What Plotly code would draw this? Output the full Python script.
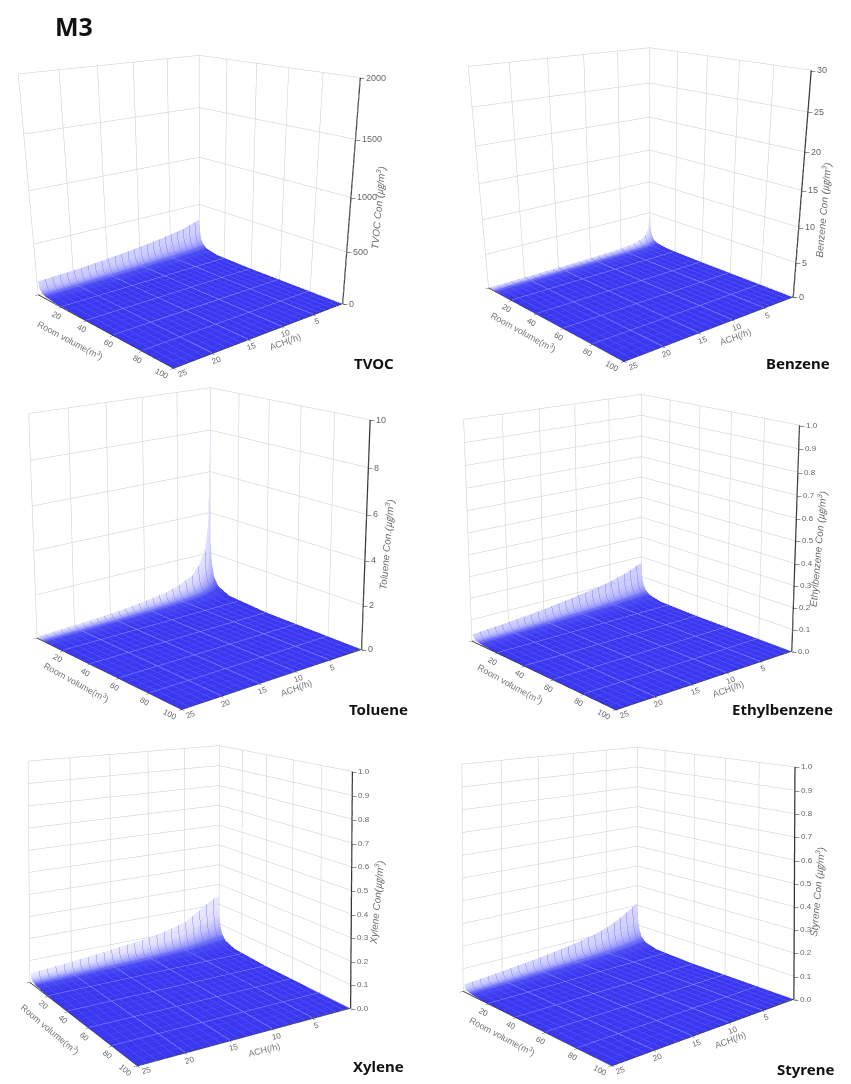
import numpy as np
import plotly.graph_objects as go

# ---- data ----
ACH = [0.2, 0.5, 1, 2, 3, 5, 7, 10, 13, 16, 20, 25]
VOL = [1, 1.5, 2.5, 4, 7, 15, 40, 100]

TVOC = [
 [340,335,325,305,285,262,240,215,192,175,155,140],
 [211,208,202,189,177,162,149,133,119,109,96,87],
 [136,134,130,122,114,105,96,86,77,70,62,56],
 [85,84,81,76,71,66,60,54,48,44,39,35],
 [48,47,46,43,40,37,34,30,27,25,22,20],
 [20,20,20,18,17,16,14,13,12,11,9,8],
 [9,8,8,8,7,7,6,5,5,4,4,3],
 [3,3,3,3,3,3,2,2,2,2,2,1],
]
BENZENE = [
 [5.2,2.6,1.6,1.0,.75,.55,.45,.35,.28,.24,.2,.16],
 [3.0,1.7,1.05,.65,.48,.35,.28,.22,.18,.15,.12,.1],
 [1.6,1.05,.65,.4,.3,.22,.18,.14,.11,.1,.08,.06],
 [.9,.65,.4,.25,.19,.14,.11,.09,.07,.06,.05,.04],
 [.5,.36,.23,.14,.11,.08,.06,.05,.04,.035,.03,.02],
 [.22,.17,.11,.07,.05,.04,.03,.02,.02,.02,.01,.01],
 [.09,.06,.04,.03,.02,.015,.01,.01,.01,.01,.005,.005],
 [.035,.025,.015,.01,.01,.005,.005,.005,.005,.004,.003,.002],
]
TOLUENE = [
 [7.8,3.5,2.2,1.5,1.1,.8,.6,.45,.33,.25,.18,.12],
 [2.5,1.9,1.35,.9,.68,.5,.38,.28,.2,.16,.11,.08],
 [1.5,1.1,.85,.58,.44,.32,.24,.18,.13,.1,.07,.05],
 [.9,.7,.52,.36,.27,.2,.15,.11,.08,.06,.045,.03],
 [.5,.4,.3,.2,.15,.11,.085,.06,.045,.035,.025,.02],
 [.22,.18,.13,.09,.07,.05,.04,.03,.02,.015,.01,.01],
 [.08,.07,.05,.035,.025,.02,.015,.01,.01,.005,.005,.003],
 [.03,.03,.02,.015,.01,.008,.006,.004,.003,.002,.002,.001],
]
ETHYLBENZENE = [
 [.172,.17,.165,.15,.138,.12,.105,.09,.075,.062,.048,.035],
 [.107,.105,.102,.093,.086,.074,.065,.056,.047,.038,.03,.022],
 [.069,.068,.066,.06,.055,.048,.042,.036,.03,.025,.019,.014],
 [.043,.042,.041,.037,.034,.03,.026,.022,.019,.015,.012,.009],
 [.024,.024,.023,.021,.019,.017,.015,.013,.01,.009,.007,.005],
 [.01,.01,.01,.009,.008,.007,.006,.005,.005,.004,.003,.002],
 [.004,.004,.004,.004,.003,.003,.003,.002,.002,.002,.001,.001],
 [.002,.002,.002,.001,.001,.001,.001,.001,.001,.001,.001,.0005],
]
XYLENE = [
 [.242,.24,.235,.215,.19,.145,.125,.10,.088,.075,.06,.045],
 [.15,.149,.146,.133,.118,.09,.078,.062,.055,.047,.037,.028],
 [.097,.096,.094,.086,.076,.058,.05,.04,.035,.03,.024,.018],
 [.06,.06,.059,.054,.048,.036,.031,.025,.022,.019,.015,.011],
 [.034,.034,.033,.03,.027,.02,.018,.014,.012,.011,.008,.006],
 [.015,.014,.014,.013,.011,.009,.008,.006,.005,.005,.004,.003],
 [.006,.006,.006,.005,.005,.004,.003,.003,.002,.002,.002,.001],
 [.002,.002,.002,.002,.002,.002,.001,.001,.001,.001,.001,.0005],
]
STYRENE = [
 [.212,.21,.2,.18,.16,.13,.11,.09,.075,.062,.048,.033],
 [.131,.13,.124,.112,.099,.081,.068,.056,.047,.038,.03,.02],
 [.085,.084,.08,.072,.064,.052,.044,.036,.03,.025,.019,.013],
 [.053,.053,.05,.045,.04,.033,.028,.023,.019,.016,.012,.008],
 [.03,.029,.028,.025,.022,.018,.015,.013,.011,.009,.007,.005],
 [.013,.013,.012,.011,.01,.008,.007,.005,.005,.004,.003,.002],
 [.005,.005,.005,.004,.004,.003,.003,.002,.002,.002,.001,.001],
 [.002,.002,.002,.002,.002,.001,.001,.001,.001,.001,.001,.0005],
]

ACH_TICKS = [0, 5, 10, 15, 20, 25]
VOL_TICKS = [0, 20, 40, 60, 80, 100]

TENTHS = [i/10 for i in range(11)]
TENTHS_TEXT = [f"{i/10:.1f}" for i in range(11)]
PANELS = [
 dict(name="TVOC", z=TVOC, zmax=2000, zticks=[0,500,1000,1500,2000],
      ztext=["0","500","1000","1500","2000"], ztitle="TVOC Con (㎍/m<sup>3</sup>)", label=(374,363),
      cam=(2.315,2.771,0.984,0.130,0.245,-0.624,0.006,-0.007,0.992,0.988), xd=(0,404), yd=(0,700),
      zt=(.45,28), room=(-29,10,28), ach=(20,7,-20), pale="#bdbdff"),
 dict(name="Benzene", z=BENZENE, zmax=30, zticks=[0,5,10,15,20,25,30],
      ztext=["0","5","10","15","20","25","30"], ztitle="Benzene Con (㎍/m<sup>3</sup>)", label=(798,363),
      cam=(2.315,2.771,0.984,0.130,0.245,-0.657,0.006,-0.007,0.992,0.988), xd=(454,851), yd=(0,700),
      zt=(.41,23), room=(-26,9,29), ach=(20,8,-20), pale="#d2d2ff"),
 dict(name="Toluene", z=TOLUENE, zmax=10, zticks=[0,2,4,6,8,10],
      ztext=["0","2","4","6","8","10"], ztitle="Toluene Con.(㎍/m<sup>3</sup>)", label=(378,709),
      cam=(3.3768,4.0644,1.5149,-0.0027,0.0138,-0.0367,0.0042,-0.0028,0.9864,0.9917), xd=(0,400), yd=(0,1084),
      zt=(.47,21), room=(-28,9,29), ach=(20,8,-20), pale="#d2d2ff"),
 dict(name="Ethylbenzene", z=ETHYLBENZENE, zmax=1, zticks=TENTHS,
      ztext=TENTHS_TEXT, ztitle="Ethylbenzene Con (㎍/m<sup>3</sup>)", label=(782,709),
      cam=(3.4385,4.1120,1.5070,-0.0319,0.0286,-0.0223,0.0074,-0.0050,0.9812,0.9886), xd=(429,851), yd=(0,1084),
      zt=(.465,23), room=(-28,9,29), ach=(20,8,-20), pale="#bdbdff"),
 dict(name="Xylene", z=XYLENE, zmax=1, zticks=TENTHS,
      ztext=TENTHS_TEXT, ztitle="Xylene Con(㎍/m<sup>3</sup>)", label=(378,1066),
      cam=(2.257,3.670,1.139,-0.426,-0.579,0.893,0.011,-0.017,1.022,1.002), xd=(0,393), yd=(250,1084),
      zt=(.45,25), room=(-28,7,40), ach=(13,13,-14), pale="#dcdcff"),
 dict(name="Styrene", z=STYRENE, zmax=1, zticks=TENTHS,
      ztext=TENTHS_TEXT, ztitle="Styrene Con (㎍/m<sup>3</sup>)", label=(805,1069),
      cam=(2.763,3.221,1.037,-0.201,-0.156,0.900,0.009,-0.009,0.998,0.982), xd=(429,847), yd=(250,1084),
      zt=(.465,23), room=(-28,9,28), ach=(20,8,-20), pale="#c4c4ff"),
]

W, H = 851, 1084
TICK_FONT = dict(family="Liberation Sans", size=8, color="#666666")
GRID = "#c9c9c9"
BLUE = "#3a38ee"
OPAC = [[0,.7],[.02,.8],[.06,1],[1,1]]

def axis(tickvals, ticktext, rng, visible=True):
    return dict(title=dict(text=""), range=rng, tickvals=tickvals, ticktext=ticktext,
                tickfont=TICK_FONT, tickcolor="#333333", ticklen=3 if visible else 0,
                ticks="outside" if visible else "", showticklabels=False,
                showgrid=True, gridcolor=GRID, gridwidth=1, zeroline=False,
                showline=visible, linecolor="#333333", linewidth=2,
                showbackground=False, showspikes=False, autorange=False)

def note(x, y, z, text, **kw):
    return dict(x=x, y=y, z=z, text=text, showarrow=False, yanchor="middle", **kw)

fig = go.Figure()
layout = dict(width=W, height=H, margin=dict(l=0, r=0, t=0, b=0), paper_bgcolor="white",
              showlegend=False, annotations=[])
for i, p in enumerate(PANELS):
    sid = "scene" if i == 0 else f"scene{i+1}"
    z = np.array(p["z"], float)
    xs, ys = np.array(ACH, float), np.array(VOL, float)
    surf = np.tile(ys[:, None], (1, len(xs)))
    scale = [[0,p["pale"]],[.015,"#a0a0fb"],[.03,"#7676f6"],[.06,"#4a4af2"],[.14,BLUE],[1,BLUE]]
    fig.add_trace(go.Surface(
        x=xs, y=ys, z=z, surfacecolor=surf, cmin=1, cmax=100, colorscale=scale, showscale=False,
        opacityscale=OPAC, scene=sid, hoverinfo="skip",
        lighting=dict(ambient=1, diffuse=0, specular=0, roughness=1, fresnel=0),
        contours=dict(
            x=dict(show=True, start=0, end=25, size=1, color="rgba(80,80,215,0.75)", width=1, highlight=False),
            y=dict(show=True, start=0, end=100, size=5, color="rgba(50,50,205,0.6)", width=1, highlight=False),
            z=dict(show=False, highlight=False))))
    lift = p["zmax"] * 0.004
    GL = dict(color="rgba(125,125,235,0.85)", width=1)
    for a in ACH_TICKS[1:-1]:
        fig.add_trace(go.Scatter3d(x=[a, a], y=[VOL_TICKS[0], VOL_TICKS[-1]], z=[lift, lift], mode="lines",
                                   line=GL, scene=sid, hoverinfo="skip"))
    for v in VOL_TICKS[1:-1]:
        fig.add_trace(go.Scatter3d(x=[ACH_TICKS[0], ACH_TICKS[-1]], y=[v, v], z=[lift, lift], mode="lines",
                                   line=GL, scene=sid, hoverinfo="skip"))
    # z axis stands on the right-hand corner, as in the source software
    fig.add_trace(go.Scatter3d(x=[ACH_TICKS[0]]*2, y=[VOL_TICKS[-1]]*2, z=[0, p["zmax"]], mode="lines",
                               line=dict(color="#333333", width=2.5), scene=sid, hoverinfo="skip"))
    notes = []
    zsize = 8 if len(p["zticks"]) > 8 else 9
    for t, s in zip(p["zticks"], p["ztext"]):
        notes.append(note(0, 100, t, "–", xanchor="left", xshift=-2,
                          font=dict(family="Liberation Sans", size=8, color="#222222")))
        notes.append(note(0, 100, t, s, xanchor="left", xshift=4,
                          font=dict(family="Liberation Sans", size=zsize, color="#666666")))
    tf = dict(family="Liberation Sans", size=9, color="#777777")
    for t in ACH_TICKS[1:]:
        near = t == ACH_TICKS[-1]
        notes.append(note(t, 100, 0, str(t), textangle=p["ach"][2], xanchor="center",
                          xshift=9 if near else 4, yshift=-5 if near else -7, font=TICK_FONT))
    for t in VOL_TICKS[1:]:
        near = t == VOL_TICKS[-1]
        notes.append(note(25, t, 0, str(t), textangle=p["room"][2], xanchor="center",
                          xshift=-12 if near else -5, yshift=-5 if near else -8, font=TICK_FONT))
    notes.append(note(0, 100, p["zt"][0]*p["zmax"], f'<i>{p["ztitle"]}</i>', textangle=-85, xanchor="center",
                      xshift=p["zt"][1], font=dict(family="Liberation Sans, Noto Sans CJK KR", size=10, color="#6e6e6e")))
    notes.append(note(25, 50, 0, "Room volume(m<sup>3</sup>)", textangle=p["room"][2], xanchor="center",
                      xshift=p["room"][0], yshift=-p["room"][1]-2, font=tf))
    notes.append(note(12.5, 100, 0, "ACH(/h)", textangle=p["ach"][2], xanchor="center",
                      xshift=p["ach"][0], yshift=-p["ach"][1]-2, font=tf))
    e = p["cam"]
    layout[sid] = dict(
        domain=dict(x=[p["xd"][0]/W, p["xd"][1]/W], y=[1-p["yd"][1]/H, 1-p["yd"][0]/H]),
        xaxis=axis(ACH_TICKS, [""]+[str(t) for t in ACH_TICKS[1:]], [0, 25]),
        yaxis=axis(VOL_TICKS, [""]+[str(t) for t in VOL_TICKS[1:]], [0, 100]),
        zaxis=axis(p["zticks"], p["ztext"], [0, p["zmax"]], visible=False),
        aspectmode="manual", aspectratio=dict(x=e[8], y=1, z=e[9]),
        camera=dict(eye=dict(x=e[0], y=e[1], z=e[2]), center=dict(x=e[3], y=e[4], z=e[5]),
                    up=dict(x=e[6], y=e[7], z=1), projection=dict(type="perspective")),
        annotations=notes, bgcolor="rgba(0,0,0,0)")
    layout["annotations"].append(dict(
        text=f"<b>{p['name']}</b>", x=p["label"][0]/W, y=1-p["label"][1]/H, xref="paper", yref="paper",
        xanchor="center", yanchor="middle", showarrow=False,
        font=dict(family="Noto Sans", size=15, color="#111111")))
layout["annotations"].append(dict(
    text="<b>M3</b>", x=53/W, y=1-26/H, xref="paper", yref="paper", xanchor="left", yanchor="middle",
    showarrow=False, font=dict(family="Noto Sans", size=25, color="#111111")))
fig.update_layout(**layout)
fig.write_html("out.html", config=dict(displayModeBar=False), post_script="document.body.style.margin='0';")
